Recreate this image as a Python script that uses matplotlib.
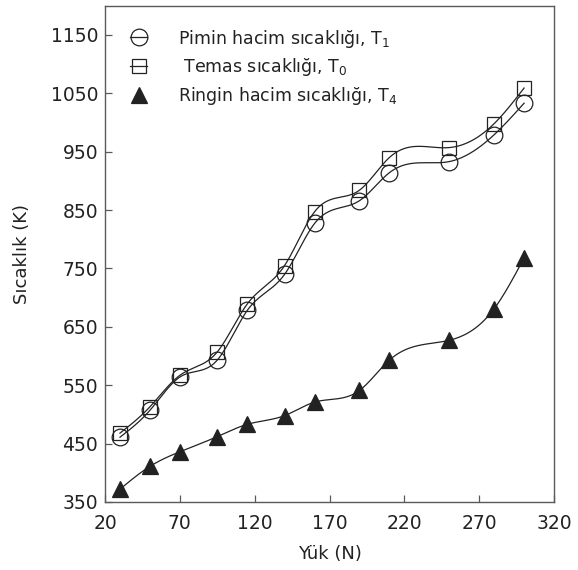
import matplotlib
matplotlib.use("Agg")
import matplotlib.pyplot as plt
from matplotlib.lines import Line2D
import numpy as np

# load values (N) and temperatures (K)
load = [30, 50, 70, 95, 115, 140, 160, 190, 210, 250, 280, 300]
t1_pin = [461, 507, 564, 593, 678, 740, 827, 866, 914, 933, 979, 1033]
t0_contact = [468, 513, 567, 607, 689, 755, 847, 884, 940, 957, 998, 1059]
t4_ring = [372, 411, 436, 462, 483, 498, 521, 541, 593, 627, 681, 768]

xticks = [20, 70, 120, 170, 220, 270, 320]
yticks = [350, 450, 550, 650, 750, 850, 950, 1050, 1150]

labels = ["Pimin hacim sıcaklığı, T$_1$",
          " Temas sıcaklığı, T$_0$",
          "Ringin hacim sıcaklığı, T$_4$"]

ink = "#222222"
spine_col = "#5a5a5a"


def natural_spline(x, y, n=400):
    # natural cubic spline used only to draw the smooth connecting curve
    x = np.asarray(x, float)
    y = np.asarray(y, float)
    k = len(x)
    h = np.diff(x)
    A = np.zeros((k, k))
    b = np.zeros(k)
    A[0, 0] = A[-1, -1] = 1
    for i in range(1, k-1):
        A[i, i-1] = h[i-1]
        A[i, i] = 2*(h[i-1]+h[i])
        A[i, i+1] = h[i]
        b[i] = 6*((y[i+1]-y[i])/h[i] - (y[i]-y[i-1])/h[i-1])
    M = np.linalg.solve(A, b)
    xs = np.linspace(x[0], x[-1], n)
    idx = np.clip(np.searchsorted(x, xs) - 1, 0, k-2)
    x0, x1 = x[idx], x[idx+1]
    hh = x1 - x0
    ys = (M[idx]*(x1-xs)**3/(6*hh) + M[idx+1]*(xs-x0)**3/(6*hh)
          + (y[idx]/hh - M[idx]*hh/6)*(x1-xs)
          + (y[idx+1]/hh - M[idx+1]*hh/6)*(xs-x0))
    return xs, ys


fig = plt.figure(figsize=(5.78, 5.70), dpi=100)
ax = fig.add_axes([0.1817, 0.1193, 0.7768, 0.8707])

series = [
    (t1_pin, dict(marker="o", ms=12, mfc="none")),
    (t0_contact, dict(marker="s", ms=10.5, mfc="none")),
    (t4_ring, dict(marker="^", ms=11.5, mfc=ink)),
]

for vals, style in series:
    xs, ys = natural_spline(load, vals)
    ax.plot(xs, ys, color=ink, lw=0.9, zorder=2)
    ax.plot(load, vals, ls="none", mec=ink, mew=0.9, zorder=3, **style)

handles = [Line2D([], [], color=ink, lw=0.9, mec=ink, mew=0.9, **s)
           for _, s in series]
handles[2].set_linestyle("none")
leg = ax.legend(handles, labels, loc="upper left", bbox_to_anchor=(0.04, 0.97),
                frameon=False, fontsize=12.5, handlelength=1.0,
                handletextpad=1.75, labelspacing=0.4, borderaxespad=0)
for t in leg.get_texts():
    t.set_color(ink)

ax.set_xlim(20, 320)
ax.set_ylim(350, 1200)
ax.set_xticks(xticks)
ax.set_yticks(yticks)
ax.tick_params(direction="in", length=5, width=0.9, color=spine_col,
               labelsize=13.5, labelcolor=ink, pad=5)
ax.tick_params(axis="x", pad=9)
for sp in ax.spines.values():
    sp.set_color(spine_col)
    sp.set_linewidth(1.0)

ax.set_xlabel("Yük (N)", fontsize=13, color=ink, labelpad=8)
ax.set_ylabel("Sıcaklık (K)", fontsize=13, color=ink, labelpad=14)

fig.savefig("out.png", dpi=100)
